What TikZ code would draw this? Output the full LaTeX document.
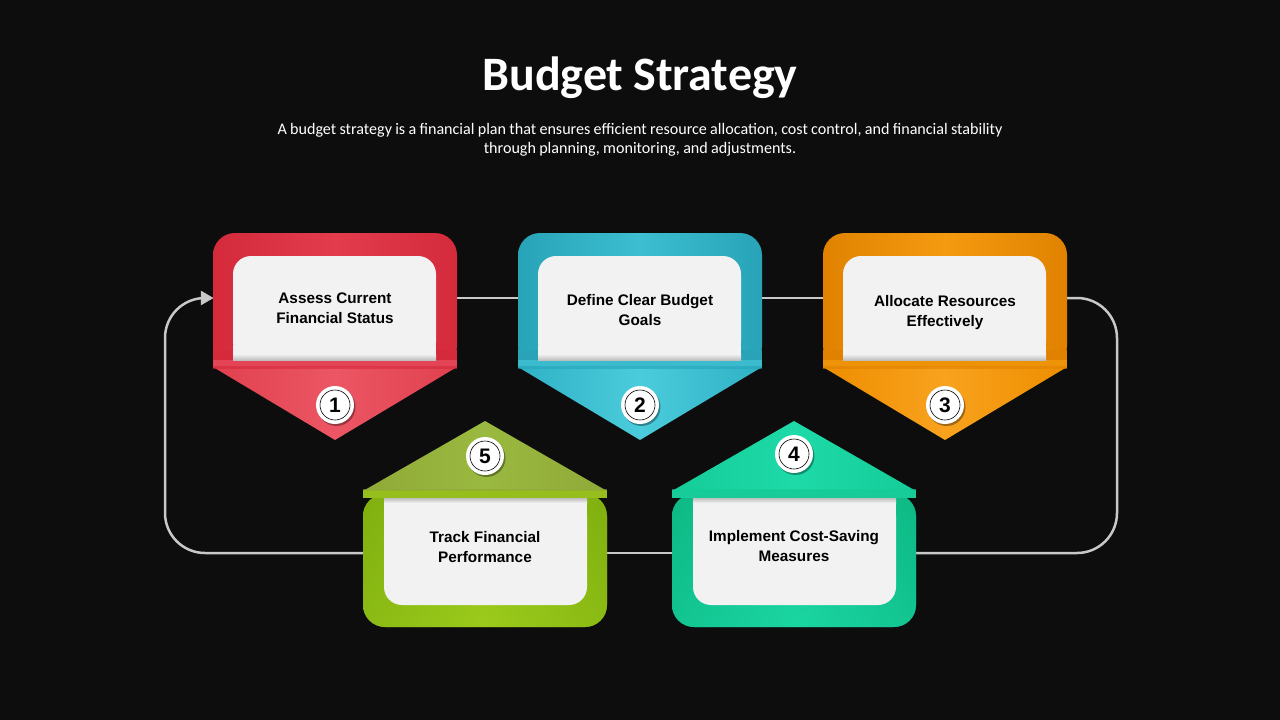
\documentclass[tikz,border=0pt]{standalone}
\usepackage{fontspec}
\setmainfont{Liberation Sans}
\newfontfamily\titlefont{Carlito}
\newfontfamily\descfont[WordSpace=0.9]{Carlito}
\usetikzlibrary{arrows.meta,shadows}
\definecolor{bg}{HTML}{0D0D0D}
\definecolor{flowc}{HTML}{C8C8C8}
\definecolor{paper}{HTML}{F2F2F2}
\definecolor{redA}{HTML}{D42A3C}\definecolor{redB}{HTML}{E23C4D}\definecolor{redT}{HTML}{E0404F}\definecolor{redU}{HTML}{EC5664}\definecolor{redN}{HTML}{E34556}
\definecolor{tealA}{HTML}{28A3B8}\definecolor{tealB}{HTML}{3CBFD0}\definecolor{tealT}{HTML}{30B2C6}\definecolor{tealU}{HTML}{4ACCDC}\definecolor{tealN}{HTML}{3ABCCE}
\definecolor{oraA}{HTML}{E08200}\definecolor{oraB}{HTML}{F49A10}\definecolor{oraT}{HTML}{EE8E00}\definecolor{oraU}{HTML}{F8A21E}\definecolor{oraN}{HTML}{EE9208}
\definecolor{grnA}{HTML}{80B010}\definecolor{grnB}{HTML}{9CCB1C}\definecolor{grnT}{HTML}{90AA38}\definecolor{grnU}{HTML}{9AB940}\definecolor{grnN}{HTML}{96BE1C}
\definecolor{emrA}{HTML}{0DB985}\definecolor{emrB}{HTML}{1BD6A2}\definecolor{emrT}{HTML}{14CC98}\definecolor{emrU}{HTML}{1EDAA8}\definecolor{emrN}{HTML}{18CC9A}
\tikzset{
  flow/.style={draw=flowc,line width=2.5pt},
  cardtext/.style={font=\bfseries\fontsize{15.3}{20}\selectfont,align=center,text=black},
  numc/.style={circle,fill=white,minimum size=38pt,inner sep=0pt,
    font=\bfseries\fontsize{21}{22}\selectfont,text=black,
    drop shadow={shadow xshift=1.5pt,shadow yshift=-2pt,opacity=0.35,fill=black},
    path picture={\draw[black,line width=0.6pt] (path picture bounding box.center) circle (15pt);}},
}
\newcommand\TopCard[2]{%
  \shade[left color=#2A,right color=#2A,middle color=#2B,rounded corners=22pt]
    (#1,368) -- (#1,233) -- (#1+244,233) -- (#1+244,368) -- cycle;
  \fill[#2A] (#1,350) rectangle (#1+244,368);
  \shade[left color=#2T,right color=#2T,middle color=#2U]
    (#1,367) -- (#1+244,367) -- (#1+122,440) -- cycle;
  \fill[#2N] (#1,360) rectangle (#1+244,367);
  \fill[#2A,opacity=0.6] (#1,366) rectangle (#1+244,369);
  \fill[paper,rounded corners=18pt] (#1+20,360) -- (#1+20,256) -- (#1+223,256) -- (#1+223,360) -- cycle;
  \fill[paper] (#1+20,345) rectangle (#1+223,360);
  \shade[top color=paper,bottom color=black!25] (#1+20,354) rectangle (#1+223,360);
}
\newcommand\BotCard[2]{%
  \shade[top color=#2A,bottom color=#2B,rounded corners=22pt]
    (#1,494) -- (#1,627) -- (#1+244,627) -- (#1+244,494) -- cycle;
  \shade[left color=#2A,right color=#2A,middle color=#2B,opacity=0.6,rounded corners=22pt]
    (#1,494) -- (#1,627) -- (#1+244,627) -- (#1+244,494) -- cycle;
  \shade[left color=#2T,right color=#2T,middle color=#2U]
    (#1,491) -- (#1+244,491) -- (#1+122,421) -- cycle;
  \fill[#2N] (#1,490) rectangle (#1+244,498);
  \fill[#2T,opacity=0.6] (#1,489) rectangle (#1+244,491);
  \fill[paper,rounded corners=18pt] (#1+21,498) -- (#1+21,605) -- (#1+224,605) -- (#1+224,498) -- cycle;
  \fill[paper] (#1+21,498) rectangle (#1+224,520);
  \shade[top color=black!25,bottom color=paper] (#1+21,498) rectangle (#1+224,503);
}
\begin{document}
\begin{tikzpicture}[x=1pt,y=-1pt]
\fill[bg] (0,0) rectangle (1280,720);
\useasboundingbox (0,0) rectangle (1280,720);

\node[font=\titlefont\bfseries\fontsize{48}{50}\selectfont,text=white] (title) at (640,78) {Budget Strategy};
\node[font=\descfont\fontsize{16.1}{19}\selectfont,text=white,align=center] (desc) at (640,139.5)
  {A budget strategy is a financial plan that ensures efficient resource allocation, cost control, and financial stability\\through planning, monitoring, and adjustments.};

% ports of the cards
\coordinate (c1w) at (213,298); \coordinate (c1e) at (457,298);
\coordinate (c2w) at (518,298); \coordinate (c2e) at (762,298);
\coordinate (c3w) at (823,298); \coordinate (c3e) at (1067,298);
\coordinate (c4w) at (672,553); \coordinate (c4e) at (916,553);
\coordinate (c5w) at (363,553); \coordinate (c5e) at (607,553);
\coordinate (lc) at (165,553); \coordinate (rc) at (1117,553);

% connectors
\draw[flow] (c1e) -- (c2w);
\draw[flow] (c2e) -- (c3w);
\draw[flow,rounded corners=40pt] (c3e) -| (rc) -- (c4e);
\draw[flow] (c4w) -- (c5e);
\draw[flow,rounded corners=40pt] (c5w) -- (lc) |- ([xshift=-10pt]c1w);
\draw[flowc,fill=flowc] (c1w) -- ++(-12,-7) -- ++(0,14) -- cycle;

% cards
\TopCard{213}{red}
\TopCard{518}{teal}
\TopCard{823}{ora}
\BotCard{363}{grn}
\BotCard{672}{emr}

\node[cardtext] (t1) at (335,309) {Assess Current\strut\\Financial Status\strut};
\node[cardtext] (t2) at (640,311) {Define Clear Budget\strut\\Goals\strut};
\node[cardtext] (t3) at (945,312) {Allocate Resources\strut\\Effectively\strut};
\node[cardtext] (t5) at (485,548) {Track Financial\strut\\Performance\strut};
\node[cardtext] (t4) at (794,547) {Implement Cost-Saving\strut\\Measures\strut};

\node[numc] (n1) at (335,405) {1};
\node[numc] (n2) at (640,405) {2};
\node[numc] (n3) at (945,405) {3};
\node[numc] (n4) at (794,454) {4};
\node[numc] (n5) at (485,456) {5};
\end{tikzpicture}
\end{document}
